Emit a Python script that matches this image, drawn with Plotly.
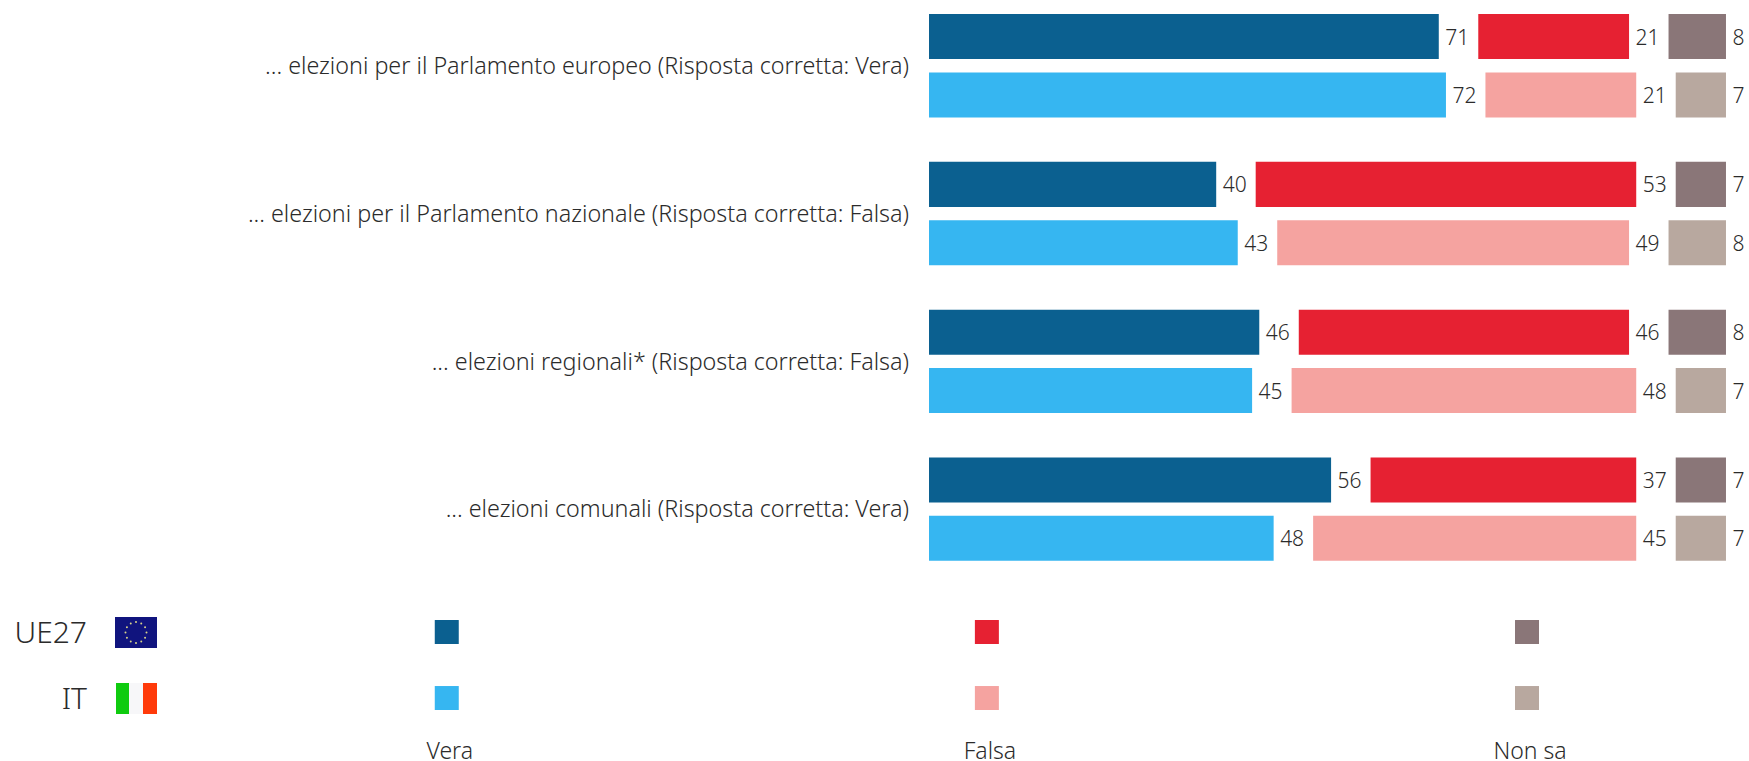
import math
import plotly.graph_objects as go

W, H = 1749, 761

questions = [
    '... elezioni per il Parlamento europeo (Risposta corretta: Vera)',
    '... elezioni per il Parlamento nazionale (Risposta corretta: Falsa)',
    '... elezioni regionali* (Risposta corretta: Falsa)',
    '... elezioni comunali (Risposta corretta: Vera)',
]
answers = ['Vera', 'Falsa', 'Non sa']
regions = ['UE27', 'IT']

ue27_vera = [71, 40, 46, 56]
ue27_falsa = [21, 53, 46, 37]
ue27_nonsa = [8, 7, 8, 7]
it_vera = [72, 43, 45, 48]
it_falsa = [21, 49, 48, 45]
it_nonsa = [7, 8, 7, 7]

ue27_colors = ['#0B6090', '#E62132', '#8A7678']
it_colors = ['#36B6F1', '#F5A3A0', '#B8A89F']

GAP = 5.5          # spazio tra i blocchi, in punti percentuali
ROW_OFFSET = 0.1975
BAR_HEIGHT = 0.3045
FONT = 'Noto Sans'
TEXT_COLOR = '#2B2B2B'

fig = go.Figure()


def add_series(vera, falsa, nonsa, colors, offset):
    ys = [i + offset for i in range(len(questions))]
    bases = [0] * len(questions)
    for values, color in zip([vera, falsa, nonsa], colors):
        fig.add_trace(go.Bar(
            y=ys, x=values, base=bases, orientation='h',
            width=BAR_HEIGHT, marker=dict(color=color, line=dict(width=0)),
            text=['\u2009' + str(v) for v in values], textposition='outside',
            textangle=0, cliponaxis=False, constraintext='none',
            textfont=dict(size=21, color=TEXT_COLOR, family=FONT, weight=300),
            showlegend=False,
        ))
        bases = [b + v + GAP for b, v in zip(bases, values)]


add_series(ue27_vera, ue27_falsa, ue27_nonsa, ue27_colors, -ROW_OFFSET)
add_series(it_vera, it_falsa, it_nonsa, it_colors, ROW_OFFSET)

# legenda in basso: griglia risposte / paesi
for region, colors in zip(regions, [ue27_colors, it_colors]):
    fig.add_trace(go.Scatter(
        x=answers, y=[region] * len(answers), xaxis='x2', yaxis='y2',
        mode='markers',
        marker=dict(symbol='square', size=24, color=colors, line=dict(width=0)),
        showlegend=False,
    ))


def px(x):
    return x / W


def py(y):
    return 1 - y / H


def rect(x0, y0, x1, y1, color):
    return dict(type='rect', xref='paper', yref='paper',
                x0=px(x0), x1=px(x1), y0=py(y0), y1=py(y1),
                fillcolor=color, line=dict(width=0), layer='above')


# bandiere
shapes = [rect(115, 617, 157, 648, '#10147E')]
for k in range(12):
    a = k * math.pi / 6
    cx, cy = 136 + 10.5 * math.cos(a), 632.5 + 10.5 * math.sin(a)
    shapes.append(dict(type='circle', xref='paper', yref='paper',
                       x0=px(cx - 1), x1=px(cx + 1), y0=py(cy - 1), y1=py(cy + 1),
                       fillcolor='#D8D48A', line=dict(width=0), layer='above'))
shapes += [
    rect(116, 683, 129, 714, '#0FCB0F'),
    rect(129, 683, 143, 714, '#F7F7F9'),
    rect(143, 683, 157, 714, '#FF3A0A'),
]

fig.update_layout(
    width=W, height=H,
    barmode='overlay',
    plot_bgcolor='white', paper_bgcolor='white',
    margin=dict(l=0, r=0, t=0, b=0),
    font=dict(family=FONT, color=TEXT_COLOR),
    shapes=shapes,
    xaxis=dict(domain=[929 / W, 1], range=[0, 820 / 7.18], visible=False, automargin=False),
    yaxis=dict(
        domain=[1 - 590 / H, 1], range=[3.547, -0.445], automargin=False,
        tickmode='array', tickvals=list(range(len(questions))), ticktext=questions,
        tickfont=dict(size=23.3, color=TEXT_COLOR, family=FONT, weight=300),
        ticks='', showgrid=False, zeroline=False, showline=False,
        ticklabelstandoff=19,
    ),
    xaxis2=dict(
        domain=[100 / W, 1], anchor='y2', automargin=False,
        type='category', categoryorder='array', categoryarray=answers,
        range=[-0.642, 2.411],
        tickfont=dict(size=23, color=TEXT_COLOR, family=FONT, weight=300),
        ticks='', showgrid=False, zeroline=False, showline=False,
        ticklabelstandoff=0, ticklabelshift=3,
    ),
    yaxis2=dict(
        domain=[1 - 735 / H, 1 - 600 / H], anchor='x2', automargin=False,
        type='category', categoryorder='array', categoryarray=['IT', 'UE27'],
        range=[-0.56, 1.485],
        tickfont=dict(size=30, color=TEXT_COLOR, family=FONT, weight=300),
        ticks='', showgrid=False, zeroline=False, showline=False,
        ticklabelstandoff=12,
    ),
)

fig.write_html('out.html', config=dict(displayModeBar=False),
               post_script="document.body.style.margin='0';")
